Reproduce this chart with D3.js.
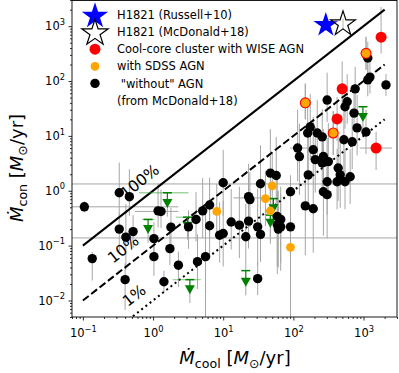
<!DOCTYPE html>
<html lang="en">
<head>
<meta charset="UTF-8">
<title>Mcon vs Mcool</title>
<script src="https://d3js.org/d3.v7.min.js"></script>
<style>
  body { margin: 0; background: #fff; }
  text { font-family: "DejaVu Sans", sans-serif; fill: #000; }
</style>
</head>
<body>
<div id="chart"></div>
<script>
const W = 399, H = 373;
const plotL = 72, plotR = 397, plotT = 0, plotB = 317;

// "without" AGN clusters (McDonald+18): Mcool, Mcon, error down / up in dex
const blackX = [0.105, 0.136, 0.33, 0.46, 1.18, 1.3, 0.33, 0.41, 0.52, 1.03, 1.8, 3.2, 4.1, 1.03, 1.74, 2.3, 4.3, 0.40, 1.43, 5.6,
  5.1, 6.4, 6.4, 8.9, 10, 13, 17, 23, 31, 21, 34, 23, 24, 10, 34, 59, 66, 59, 66, 61,
  91, 91, 148, 192, 268, 303, 303, 420, 545, 645, 31, 47, 57, 163, 435, 465, 115, 122, 192, 205,
  258, 315, 268, 525, 690, 174, 160, 219, 258, 810, 1085, 303, 585, 545, 733, 760, 1235, 1150, 2090, 1150];
const blackY = [0.51, 0.058, 0.92, 0.78, 0.43, 0.42, 0.20, 0.143, 0.18, 0.134, 0.217, 0.22, 0.30, 0.063, 0.088, 0.044, 0.051, 0.024, 0.022, 0.063,
  0.43, 0.55, 0.23, 0.155, 0.166, 0.27, 0.236, 0.28, 0.22, 0.145, 0.16, 0.78, 0.69, 1.4, 1.34, 0.34, 0.30, 0.24, 0.22, 0.20,
  0.22, 0.96, 0.53, 0.47, 0.96, 0.85, 1.46, 1.46, 1.46, 1.8, 0.025, 2.1, 1.9, 1.95, 2.6, 1.95, 6.0, 4.2, 5.6, 3.7,
  3.2, 3.4, 4.2, 8.5, 7.8, 14.6, 11.3, 11.3, 9.6, 14, 11.8, 45, 42, 34, 26, 72, 118, 105, 85, 263];
const blackDn = [0.1, 0.4, 0.4, 0.35, 0.3, 0.3, 0.4, 0.6, 0.3, 0.3, 0.35, 0.4, 0.4, 0.35, 0.3, 0.4, 0.5, 0.55, 0.2, 1.1,
  0.5, 0.6, 0.6, 0.5, 0.6, 0.5, 0.6, 0.5, 0.7, 0.6, 0.5, 0.5, 0.5, 0.6, 0.6, 0.9, 0.8, 0.9, 0.8, 0.7,
  0.5, 1.5, 0.9, 0.8, 0.8, 0.8, 0.6, 0.5, 0.5, 0.5, 0.3, 0.7, 0.5, 0.6, 0.6, 0.6, 0.6, 0.7, 0.6, 0.6,
  0.6, 0.6, 0.5, 0.6, 0.5, 0.6, 0.7, 0.5, 0.5, 0.5, 0.4, 0.4, 0.4, 0.4, 0.3, 0.4, 0.3, 0.3, 0.2, 0.3];
const blackUp = [0.1, 0.12, 0.55, 0.5, 0.5, 0.4, 0.3, 0.6, 0.3, 0.3, 0.35, 0.3, 0.5, 0.3, 0.3, 0.25, 0.5, 0.3, 0.2, 0.8,
  0.6, 0.5, 0.5, 0.6, 0.6, 0.6, 0.7, 0.8, 0.7, 0.6, 0.9, 0.6, 0.5, 0.6, 0.7, 0.8, 0.6, 0.6, 0.6, 0.7,
  0.6, 0.3, 0.6, 0.5, 0.8, 0.7, 0.8, 0.6, 0.6, 0.5, 0.3, 0.8, 0.7, 0.8, 0.6, 0.6, 0.7, 0.6, 0.6, 0.6,
  0.5, 0.7, 0.5, 0.6, 0.6, 0.6, 0.6, 0.6, 0.5, 0.6, 0.4, 0.5, 0.5, 0.4, 0.4, 0.4, 0.3, 0.3, 0.2, 0.3];

// cool-core clusters with WISE AGN
const redX = [1780, 496, 420, 1510, 1085, 148, 370];
const redY = [630, 72, 20.4, 6.0, 320, 40, 11.3];
const redDn = [0.3, 0.3, 0.4, 0.4, 0.3, 0.3, 0.4];
const redUp = [0.55, 0.5, 0.4, 0.3, 0.3, 0.35, 0.4];
// clusters with SDSS AGN
const orangeX = [50, 40, 47, 8.1, 91, 1085, 148, 370];
const orangeY = [1.23, 0.72, 0.43, 0.42, 0.093, 320, 40, 11.3];
const orangeDn = [0.6, 0.5, 0.6, 0.5, 1.3, 0.3, 0.3, 0.4];
const orangeUp = [0.6, 0.5, 0.5, 0.5, 0.6, 0.3, 0.35, 0.4];

// upper limits: value, arrow tip, x range
const limX = [0.85, 1.6, 3.35, 980, 52, 47, 21, 3.1];
const limY = [0.30, 0.92, 0.024, 34, 0.72, 0.36, 0.035, 0.33];
const limTip = [0.20, 0.60, 0.016, 22, 0.48, 0.26, 0.022, 0.23];
const limLo = [0.7, 0.63, 1.9, 980, 45, 47, 21, 2.1];
const limHi = [1.05, 3.2, 4.8, 980, 60, 47, 21, 3.4];

// horizontal (Mcool) error bars
const hbarY = [0.51, 0.42, 1.33, 0.138, 0.74, 6.0, 6.0];
const hbarLo = [0.07, 0.55, 0.07, 0.07, 14, 890, 90];
const hbarHi = [2.3, 2.3, 3000, 3000, 40, 2540, 224];

// H1821
const starX = [290, 510];
const starY = [1050, 1100];

const fractions = [1, 0.1, 0.01];
const fracLabels = ["100%", "10%", "1%"];
const fracDash = [null, "7.4,3.2", "2,3.3"];
const fracLabelX = [0.72, 0.42, 0.6];   // Mcool where each label sits

const legendLabels = ["H1821 (Russell+10)", "H1821 (McDonald+18)", "Cool-core cluster with WISE AGN",
  "with SDSS AGN", " \"without\" AGN", "(from McDonald+18)"];

const x = d3.scaleLog().domain([0.07, 3000]).range([plotL, plotR]);
const y = d3.scaleLog().domain([0.005, 3000]).range([plotB, plotT]);

const svg = d3.select("#chart").append("svg").attr("width", W).attr("height", H);
svg.append("defs").append("clipPath").attr("id", "clip")
  .append("rect").attr("x", plotL).attr("y", plotT).attr("width", plotR - plotL).attr("height", plotB - plotT);
const plot = svg.append("g").attr("clip-path", "url(#clip)");

const grey = "#a6a6a6";

// vertical error bars
function vbars(xs, ys, dn, up) {
  plot.append("g").selectAll("line").data(xs).join("line")
    .attr("x1", d => x(d)).attr("x2", d => x(d))
    .attr("y1", (d, i) => y(ys[i] / Math.pow(10, dn[i])))
    .attr("y2", (d, i) => y(ys[i] * Math.pow(10, up[i])))
    .attr("stroke", grey).attr("stroke-width", 1);
}
vbars(blackX, blackY, blackDn, blackUp);
vbars(redX, redY, redDn, redUp);
vbars(orangeX, orangeY, orangeDn, orangeUp);
vbars(limX, limTip, limX.map(() => 0.25), limX.map(() => 0));
vbars(starX, starY, [0.1, 0.1], [0.1, 0.1]);

plot.append("g").selectAll("line").data(hbarY).join("line")
  .attr("x1", (d, i) => x(hbarLo[i])).attr("x2", (d, i) => x(hbarHi[i]))
  .attr("y1", d => y(d)).attr("y2", d => y(d))
  .attr("stroke", grey).attr("stroke-width", 1);

// 100%, 10%, 1% lines
fractions.forEach((f, i) => {
  plot.append("line")
    .attr("x1", x(0.1)).attr("y1", y(0.1 * f))
    .attr("x2", x(2000)).attr("y2", y(2000 * f))
    .attr("stroke", "#000").attr("stroke-width", 2)
    .attr("stroke-dasharray", fracDash[i]);
});
const angle = Math.atan2(y(1) - y(10), x(10) - x(1)) * 180 / Math.PI;
fracLabels.forEach((t, i) => {
  const px = x(fracLabelX[i]), py = y(fracLabelX[i] * fractions[i]) - 13;
  svg.append("text").attr("transform", `translate(${px},${py}) rotate(${-angle})`)
    .attr("text-anchor", "middle").attr("font-size", 15.5).text(t);
});

// upper limits
const g = plot.append("g");
limX.forEach((d, i) => {
  g.append("line").attr("x1", x(limLo[i])).attr("x2", x(limHi[i]))
    .attr("y1", y(limY[i])).attr("y2", y(limY[i]))
    .attr("stroke", "#2ca02c").attr("stroke-opacity", 0.45).attr("stroke-width", 1.3);
  g.append("line").attr("x1", x(d)).attr("x2", x(d))
    .attr("y1", y(limY[i])).attr("y2", y(limTip[i]))
    .attr("stroke", "green").attr("stroke-width", 1.2);
  g.append("line").attr("x1", x(d) - 4.5).attr("x2", x(d) + 4.5)
    .attr("y1", y(limY[i])).attr("y2", y(limY[i]))
    .attr("stroke", "green").attr("stroke-width", 1.5);
  const tx = x(d), ty = y(limTip[i]);
  g.append("path").attr("d", `M${tx - 5},${ty - 4}L${tx + 5},${ty - 4}L${tx},${ty + 5}Z`).attr("fill", "green");
});

// points
function dots(xs, ys, r, fill) {
  plot.append("g").selectAll("circle").data(xs).join("circle")
    .attr("cx", d => x(d)).attr("cy", (d, i) => y(ys[i])).attr("r", r).attr("fill", fill);
}
dots(blackX, blackY, 4.7, "#000");
dots(redX, redY, 5.5, "red");
dots(orangeX, orangeY, 4.4, "orange");

const starPath = d3.symbol(d3.symbolStar).size(190);
plot.append("path").attr("d", starPath()).attr("transform", `translate(${x(starX[0])},${y(starY[0])})`)
  .attr("fill", "blue");
plot.append("path").attr("d", starPath()).attr("transform", `translate(${x(starX[1])},${y(starY[1])})`)
  .attr("fill", "#fff").attr("fill-opacity", 0.2).attr("stroke", "#000").attr("stroke-width", 1.2);

// axes
function minors(scale) {
  return scale.ticks().filter(v => Math.abs(Math.log10(v) - Math.round(Math.log10(v))) > 1e-6);
}
const xMajor = [0.1, 1, 10, 100, 1000];
const yMajor = [0.01, 0.1, 1, 10, 100, 1000];

svg.append("g").attr("transform", `translate(0,${plotB})`)
  .call(d3.axisBottom(x).tickValues(minors(x)).tickSize(2).tickFormat(""))
  .call(a => a.select(".domain").remove());
svg.append("g").attr("transform", `translate(${plotL},0)`)
  .call(d3.axisLeft(y).tickValues(minors(y)).tickSize(2).tickFormat(""))
  .call(a => a.select(".domain").remove());

function powLabel(sel) {
  sel.each(function(d) {
    const t = d3.select(this);
    const e = Math.round(Math.log10(d));
    t.text(null);
    t.append("tspan").text("10");
    t.append("tspan").attr("dy", -5.5).attr("font-size", "8.3px").text(String(e).replace("-", "\u2212"));
  });
}
svg.append("g").attr("transform", `translate(0,${plotB})`)
  .call(d3.axisBottom(x).tickValues(xMajor).tickSize(3.5).tickPadding(8.5))
  .call(a => a.select(".domain").remove())
  .call(a => a.selectAll("text").attr("font-size", 11.5).attr("font-family", "DejaVu Sans").call(powLabel));
svg.append("g").attr("transform", `translate(${plotL},0)`)
  .call(d3.axisLeft(y).tickValues(yMajor).tickSize(3.5).tickPadding(3.5))
  .call(a => a.select(".domain").remove())
  .call(a => a.selectAll("text").attr("font-size", 11.5).attr("font-family", "DejaVu Sans").call(powLabel));
svg.selectAll(".tick line").attr("stroke", "#000").attr("stroke-width", 0.8);

svg.append("rect").attr("x", plotL).attr("y", plotT + 0.5).attr("width", plotR - plotL).attr("height", plotB - plotT - 0.5)
  .attr("fill", "none").attr("stroke", "#000").attr("stroke-width", 0.9);

// axis labels
function axisLabel(t, sub) {
  t.append("tspan").attr("font-style", "italic").text("M\u0307");
  t.append("tspan").attr("font-size", 12.6).attr("dy", 4).text(sub);
  t.append("tspan").attr("dy", -4).text(" [");
  t.append("tspan").attr("font-style", "italic").text("M");
  t.append("tspan").attr("font-size", 12.6).attr("dy", 4).text("\u2299");
  t.append("tspan").attr("dy", -4).text("/yr]");
}
svg.append("text").attr("x", 235).attr("y", 364).attr("text-anchor", "middle").attr("font-size", 18)
  .call(t => axisLabel(t, "cool"));
svg.append("text").attr("transform", "translate(23,168) rotate(-90)").attr("text-anchor", "middle").attr("font-size", 18)
  .call(t => axisLabel(t, "con"));

// legend
const leg = svg.append("g");
const rowY = i => 15 + i * 17.1;
const mx = 95;
const legStar = d3.symbol(d3.symbolStar).size(215);
leg.append("path").attr("d", legStar()).attr("transform", `translate(${mx},${rowY(0) + 1})`).attr("fill", "blue");
leg.append("path").attr("d", legStar()).attr("transform", `translate(${mx},${rowY(1) + 1})`)
  .attr("fill", "#fff").attr("stroke", "#000").attr("stroke-width", 1.2);
leg.append("circle").attr("cx", mx).attr("cy", rowY(2)).attr("r", 5.5).attr("fill", "red");
leg.append("circle").attr("cx", mx).attr("cy", rowY(3)).attr("r", 4.4).attr("fill", "orange");
leg.append("circle").attr("cx", mx).attr("cy", rowY(4)).attr("r", 4.7).attr("fill", "#000");
leg.selectAll("text").data(legendLabels).join("text")
  .attr("x", 117).attr("y", (d, i) => rowY(i)).attr("dy", "0.36em")
  .attr("font-size", 11.5).attr("xml:space", "preserve").style("white-space", "pre").text(d => d);
</script>
</body>
</html>
